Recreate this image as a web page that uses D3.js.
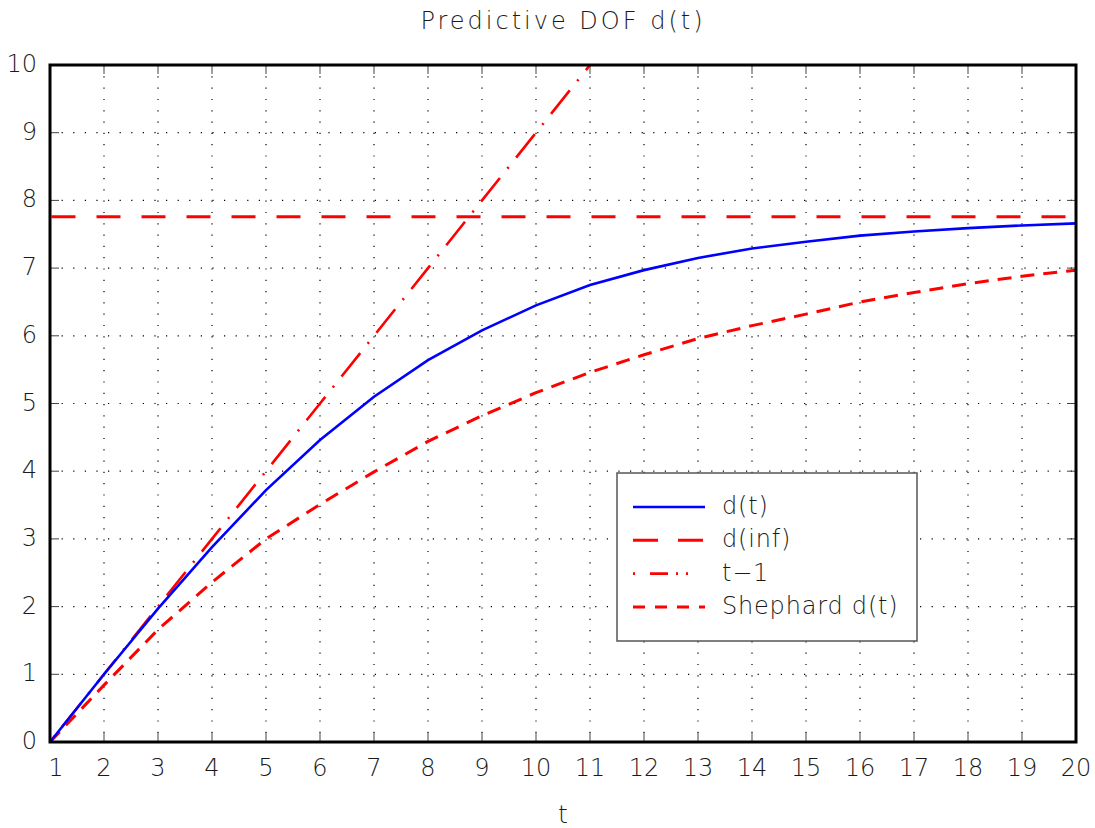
<!DOCTYPE html>
<html>
<head>
<meta charset="utf-8">
<script src="https://cdn.jsdelivr.net/npm/d3@7"></script>
<style>
  html, body { margin: 0; padding: 0; background: #fff; }
  svg text { font-family: "DejaVu Sans", "Liberation Sans", sans-serif; font-weight: 200; fill: #1a1a1a; }
</style>
</head>
<body>
<div id="chart"></div>
<script>
// data
const tVals = [1, 2, 3, 4, 5, 6, 7, 8, 9, 10, 11, 12, 13, 14, 15, 16, 17, 18, 19, 20];
const dT = [0, 1.0, 1.97, 2.88, 3.72, 4.46, 5.10, 5.64, 6.08, 6.45, 6.75, 6.97, 7.15, 7.29, 7.39, 7.48, 7.54, 7.59, 7.63, 7.66];
const dInf = 7.76;
const tLineX = [1, 2, 3, 4, 5, 6, 7, 8, 9, 10, 11];
const tMinus1 = [0, 1, 2, 3, 4, 5, 6, 7, 8, 9, 10];
const shephard = [0, 0.84, 1.66, 2.36, 3.00, 3.51, 3.99, 4.44, 4.82, 5.16, 5.46, 5.72, 5.96, 6.15, 6.32, 6.50, 6.64, 6.77, 6.88, 6.97];
const xTicks = tVals;
const yTicks = [0, 1, 2, 3, 4, 5, 6, 7, 8, 9, 10];
const legendLabels = ['d(t)', 'd(inf)', 't\u22121', 'Shephard d(t)'];

const W = 1095, H = 828;
const margin = { top: 65, right: 19, bottom: 86, left: 50 };
const width = W - margin.left - margin.right;
const height = H - margin.top - margin.bottom;

const svg = d3.select('#chart')
  .append('svg')
  .attr('width', W)
  .attr('height', H);

const g = svg.append('g')
  .attr('transform', `translate(${margin.left},${margin.top})`);

const x = d3.scaleLinear().domain([1, 20]).range([0, width]);
const y = d3.scaleLinear().domain([0, 10]).range([height, 0]);

// dotted grid
g.append('g')
  .selectAll('line')
  .data(xTicks.slice(1, -1))
  .enter().append('line')
  .attr('x1', d => x(d)).attr('x2', d => x(d))
  .attr('y1', 0).attr('y2', height)
  .attr('stroke', '#000').attr('stroke-width', 1.2)
  .attr('stroke-dasharray', '1.2,10.1');

g.append('g')
  .selectAll('line')
  .data(yTicks.slice(1, -1))
  .enter().append('line')
  .attr('y1', d => y(d)).attr('y2', d => y(d))
  .attr('x1', 0).attr('x2', width)
  .attr('stroke', '#000').attr('stroke-width', 1.2)
  .attr('stroke-dasharray', '1.2,10.4');

// inward ticks on all four sides
const tickLen = 9;
const ticks = g.append('g').attr('stroke', '#444').attr('stroke-width', 1);
xTicks.forEach(d => {
  ticks.append('line').attr('x1', x(d)).attr('x2', x(d)).attr('y1', height).attr('y2', height - tickLen);
  ticks.append('line').attr('x1', x(d)).attr('x2', x(d)).attr('y1', 0).attr('y2', tickLen);
});
yTicks.forEach(d => {
  ticks.append('line').attr('y1', y(d)).attr('y2', y(d)).attr('x1', 0).attr('x2', tickLen);
  ticks.append('line').attr('y1', y(d)).attr('y2', y(d)).attr('x1', width).attr('x2', width - tickLen);
});

// tick labels
g.append('g')
  .selectAll('text')
  .data(xTicks)
  .enter().append('text')
  .attr('x', d => x(d) + (d === 1 ? 6 : 0))
  .attr('y', height + 27)
  .attr('text-anchor', 'middle')
  .attr('dominant-baseline', 'middle')
  .attr('font-size', 24)
  .text(d => d);

g.append('g')
  .selectAll('text')
  .data(yTicks)
  .enter().append('text')
  .attr('x', -13)
  .attr('y', d => y(d))
  .attr('text-anchor', 'end')
  .attr('dominant-baseline', 'middle')
  .attr('font-size', 24)
  .text(d => d);

// clip for the lines
svg.append('defs').append('clipPath').attr('id', 'plotclip')
  .append('rect').attr('width', width).attr('height', height);

const plot = g.append('g').attr('clip-path', 'url(#plotclip)');

const line = d3.line()
  .x(d => x(d[0]))
  .y(d => y(d[1]));

plot.append('path')
  .datum([[1, dInf], [20, dInf]])
  .attr('d', line)
  .attr('fill', 'none')
  .attr('stroke', '#ff0000')
  .attr('stroke-width', 3)
  .attr('stroke-dasharray', '24,21')
  .attr('stroke-dashoffset', -1.5);

plot.append('path')
  .datum(tLineX.map((t, i) => [t, tMinus1[i]]))
  .attr('d', line)
  .attr('fill', 'none')
  .attr('stroke', '#ff0000')
  .attr('stroke-width', 2.6)
  .attr('stroke-dasharray', '30,12,2,12')
  .attr('stroke-dashoffset', 36.5);

plot.append('path')
  .datum(tVals.map((t, i) => [t, shephard[i]]))
  .attr('d', line)
  .attr('fill', 'none')
  .attr('stroke', '#ff0000')
  .attr('stroke-width', 3)
  .attr('stroke-dasharray', '14,9');

plot.append('path')
  .datum(tVals.map((t, i) => [t, dT[i]]))
  .attr('d', line)
  .attr('fill', 'none')
  .attr('stroke', '#0000ff')
  .attr('stroke-width', 2.6);

// frame
g.append('rect')
  .attr('width', width)
  .attr('height', height)
  .attr('fill', 'none')
  .attr('stroke', '#000')
  .attr('stroke-width', 3);

// title and axis label
svg.append('text')
  .attr('x', margin.left + width / 2)
  .attr('y', 29)
  .attr('text-anchor', 'middle')
  .attr('font-size', 24)
  .attr('letter-spacing', 3)
  .text('Predictive DOF d(t)');

svg.append('text')
  .attr('x', margin.left + width / 2)
  .attr('y', 823)
  .attr('text-anchor', 'middle')
  .attr('font-size', 25)
  .text('t');

// legend
const legend = svg.append('g').attr('transform', 'translate(617,473)');
legend.append('rect')
  .attr('width', 300)
  .attr('height', 168)
  .attr('fill', '#fff')
  .attr('stroke', '#555')
  .attr('stroke-width', 1.5);

const legendStyles = [
  { color: '#0000ff', dash: null, w: 2.6 },
  { color: '#ff0000', dash: '25,20', w: 3 },
  { color: '#ff0000', dash: '2,15,18,8,2,8,2,30', w: 2.6 },
  { color: '#ff0000', dash: '12,10', w: 3 }
];

legendLabels.forEach((lab, i) => {
  const ly = 34 + i * 33.3;
  const s = legendStyles[i];
  legend.append('line')
    .attr('x1', 16).attr('x2', 88)
    .attr('y1', ly).attr('y2', ly)
    .attr('stroke', s.color)
    .attr('stroke-width', s.w)
    .attr('stroke-dasharray', s.dash);
  legend.append('text')
    .attr('x', 105)
    .attr('y', ly)
    .attr('dominant-baseline', 'middle')
    .attr('font-size', 24)
    .attr('letter-spacing', 0.8)
    .text(lab);
});
</script>
</body>
</html>
